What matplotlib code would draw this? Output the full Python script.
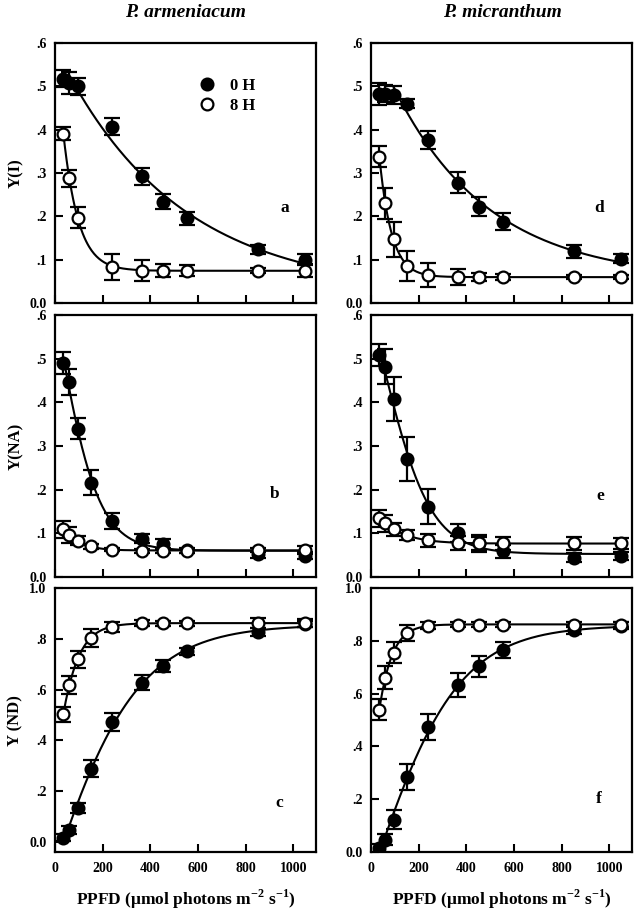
import numpy as np
import matplotlib
matplotlib.use("Agg")
import matplotlib.pyplot as plt
from matplotlib.ticker import FuncFormatter

plt.rcParams['font.family'] = ['Liberation Serif', 'DejaVu Serif']
plt.rcParams['font.weight'] = 'bold'
plt.rcParams['mathtext.fontset'] = 'custom'
plt.rcParams['mathtext.rm'] = 'Liberation Serif:bold'

# PPFD levels (umol photons m-2 s-1)
ppfd = [35, 60, 95, 150, 240, 365, 455, 555, 850, 1050]
ppfd_a = [35, 60, 95, 240, 365, 455, 555, 850, 1050]   # panel a has no 150 point

# P. armeniacum
yi_arm_0h = [0.518, 0.507, 0.500, 0.407, 0.292, 0.234, 0.196, 0.124, 0.100]
yi_arm_0h_err = [0.020, 0.025, 0.020, 0.020, 0.020, 0.018, 0.015, 0.010, 0.012]
yi_arm_8h = [0.391, 0.288, 0.197, 0.084, 0.075, 0.075, 0.075, 0.075, 0.075]
yi_arm_8h_err = [0.015, 0.020, 0.025, 0.030, 0.025, 0.015, 0.012, 0.005, 0.015]

yna_arm_0h = [0.491, 0.447, 0.340, 0.216, 0.128, 0.088, 0.076, 0.061, 0.052, 0.049]
yna_arm_0h_err = [0.025, 0.030, 0.025, 0.028, 0.018, 0.010, 0.010, 0.005, 0.008, 0.008]
yna_arm_8h = [0.109, 0.096, 0.083, 0.070, 0.063, 0.060, 0.060, 0.060, 0.062, 0.062]
yna_arm_8h_err = [0.020, 0.018, 0.010, 0.005, 0.004, 0.004, 0.004, 0.004, 0.004, 0.010]

ynd_arm_0h = [0.017, 0.046, 0.132, 0.289, 0.473, 0.627, 0.693, 0.751, 0.828, 0.858]
ynd_arm_0h_err = [0.015, 0.015, 0.020, 0.035, 0.035, 0.030, 0.025, 0.015, 0.015, 0.012]
ynd_arm_8h = [0.503, 0.619, 0.719, 0.804, 0.848, 0.862, 0.862, 0.862, 0.862, 0.862]
ynd_arm_8h_err = [0.030, 0.035, 0.035, 0.035, 0.020, 0.012, 0.010, 0.010, 0.020, 0.015]

# P. micranthum
yi_mic_0h = [0.483, 0.483, 0.480, 0.460, 0.376, 0.278, 0.222, 0.188, 0.119, 0.102]
yi_mic_0h_err = [0.025, 0.020, 0.020, 0.010, 0.020, 0.025, 0.022, 0.020, 0.015, 0.010]
yi_mic_8h = [0.338, 0.230, 0.147, 0.086, 0.065, 0.060, 0.060, 0.060, 0.060, 0.060]
yi_mic_8h_err = [0.025, 0.035, 0.040, 0.035, 0.028, 0.018, 0.010, 0.008, 0.004, 0.004]

yna_mic_0h = [0.508, 0.481, 0.407, 0.270, 0.161, 0.101, 0.077, 0.059, 0.044, 0.048]
yna_mic_0h_err = [0.025, 0.040, 0.050, 0.050, 0.040, 0.020, 0.015, 0.015, 0.010, 0.010]
yna_mic_8h = [0.134, 0.123, 0.109, 0.096, 0.084, 0.078, 0.077, 0.077, 0.077, 0.077]
yna_mic_8h_err = [0.020, 0.020, 0.015, 0.012, 0.015, 0.015, 0.020, 0.015, 0.015, 0.012]

ynd_mic_0h = [0.015, 0.047, 0.123, 0.285, 0.473, 0.632, 0.704, 0.765, 0.840, 0.858]
ynd_mic_0h_err = [0.015, 0.020, 0.035, 0.050, 0.050, 0.045, 0.040, 0.030, 0.015, 0.012]
ynd_mic_8h = [0.540, 0.661, 0.756, 0.831, 0.858, 0.862, 0.862, 0.862, 0.862, 0.862]
ynd_mic_8h_err = [0.040, 0.045, 0.040, 0.030, 0.012, 0.008, 0.008, 0.008, 0.008, 0.008]


def _lsq(g, y):
    # closed form fit of y = c + a*g for every candidate g (last axis = points)
    gm = g.mean(-1, keepdims=True)
    ym = y.mean()
    var = ((g - gm) ** 2).sum(-1)
    var[var < 1e-12] = np.inf
    a = ((g - gm) * (y - ym)).sum(-1) / var
    c = ym - a * gm[..., 0]
    res = ((y - c[..., None] - a[..., None] * g) ** 2).sum(-1)
    return a, c, res


def fit_curve(x, y, model):
    x = np.asarray(x, float)
    y = np.asarray(y, float)
    if model == 'exp':
        ks = np.linspace(0.0002, 0.05, 500)[:, None]
        a, c, res = _lsq(np.exp(-ks * x), y)
        i = np.argmin(res)
        return lambda t: c[i] + a[i] * np.exp(-ks[i, 0] * t)
    x0s = np.linspace(-1500, 1000, 251)[:, None, None]
    ss = np.linspace(5, 800, 160)[None, :, None]
    a, c, res = _lsq(1.0 / (1.0 + np.exp(np.clip((x - x0s) / ss, -50, 50))), y)
    i, j = np.unravel_index(np.argmin(res), res.shape)
    return lambda t: c[i, j] + a[i, j] / (1 + np.exp(np.clip((t - x0s[i, 0, 0]) / ss[0, j, 0], -50, 50)))


def tick_fmt(v, pos):
    if abs(v) < 1e-9:
        return '0.0'
    if abs(v - 1) < 1e-9:
        return '1.0'
    return ('%.1f' % v).lstrip('0')


def draw_series(ax, x, y, err, filled, label, start=0, model='logistic'):
    ax.errorbar(x, y, yerr=err, fmt='none', ecolor='black', elinewidth=1.6,
                capsize=5.5, capthick=1.6, zorder=2)
    f = fit_curve(x[start:], y[start:], model)
    xs = np.linspace(x[start], x[-1], 300)
    ax.plot(xs, f(xs), color='black', lw=1.5, zorder=3)
    ax.plot(x, y, 'o', ms=8.5, mec='black', mew=1.6,
            mfc='black' if filled else 'white', label=label, zorder=4)


fig = plt.figure(figsize=(6.38, 9.13), dpi=100)

cols = [0.0862, 0.5815]
width = 0.409
rows = [(0.6681, 0.2848), (0.368, 0.287), (0.0668, 0.289)]

panels = [
    # (col, row, x0h, y0h, e0h, x8h, y8h, e8h, letter, letter xy, ylim, start0h, model0h)
    (0, 0, ppfd_a, yi_arm_0h, yi_arm_0h_err, ppfd_a, yi_arm_8h, yi_arm_8h_err, 'a', (965, 0.22), (0, 0.6), 1, 'exp'),
    (0, 1, ppfd, yna_arm_0h, yna_arm_0h_err, ppfd, yna_arm_8h, yna_arm_8h_err, 'b', (922, 0.19), (0, 0.6), 0, 'logistic'),
    (0, 2, ppfd, ynd_arm_0h, ynd_arm_0h_err, ppfd, ynd_arm_8h, ynd_arm_8h_err, 'c', (943, 0.155), (-0.04, 1.0), 0, 'logistic'),
    (1, 0, ppfd, yi_mic_0h, yi_mic_0h_err, ppfd, yi_mic_8h, yi_mic_8h_err, 'd', (956, 0.22), (0, 0.6), 2, 'exp'),
    (1, 1, ppfd, yna_mic_0h, yna_mic_0h_err, ppfd, yna_mic_8h, yna_mic_8h_err, 'e', (964, 0.185), (0, 0.6), 0, 'logistic'),
    (1, 2, ppfd, ynd_mic_0h, ynd_mic_0h_err, ppfd, ynd_mic_8h, ynd_mic_8h_err, 'f', (956, 0.2), (0, 1.0), 0, 'logistic'),
]
ylabels = ['Y(I)', 'Y(NA)', 'Y (ND)']

for col, row, x0, y0, e0, x8, y8, e8, letter, lxy, ylim, st, mdl in panels:
    b, h = rows[row]
    ax = fig.add_axes([cols[col], b, width, h])
    draw_series(ax, x0, y0, e0, True, '0 H', start=st, model=mdl)
    draw_series(ax, x8, y8, e8, False, '8 H')
    ax.set_xlim(0, 1095)
    ax.set_ylim(*ylim)
    ax.set_xticks([0, 200, 400, 600, 800, 1000])
    if ylim[1] > 0.9:
        ax.set_yticks([0, 0.2, 0.4, 0.6, 0.8, 1.0])
    else:
        ax.set_yticks([0, 0.1, 0.2, 0.3, 0.4, 0.5, 0.6])
    ax.yaxis.set_major_formatter(FuncFormatter(tick_fmt))
    ax.tick_params(direction='in', length=6, width=1.5, labelsize=10, pad=6)
    ax.tick_params(axis='x', pad=7)
    for sp in ax.spines.values():
        sp.set_linewidth(1.6)
    if row < 2:
        ax.tick_params(labelbottom=False)
    else:
        ax.set_xlabel(r'PPFD ($\mathrm{\mu}$mol photons m$^{-2}$ s$^{-1}$)',
                      fontsize=12.5, fontweight='bold', labelpad=9)
    if col == 0:
        ax.set_ylabel(ylabels[row], fontsize=12, fontweight='bold', labelpad=4)
    ax.text(lxy[0], lxy[1], letter, fontsize=12.5, fontweight='bold', ha='center', va='center')
    if col == 0 and row == 0:
        ax.legend(loc='upper left', bbox_to_anchor=(0.5, 0.91), frameon=False,
                  fontsize=12, handletextpad=0.8, labelspacing=0.25,
                  handlelength=1.2, borderpad=0.2)

fig.text(0.29, 0.996, 'P. armeniacum', fontsize=14, fontweight='bold', style='italic',
         ha='center', va='top')
fig.text(0.787, 0.996, 'P. micranthum', fontsize=14, fontweight='bold', style='italic',
         ha='center', va='top')

fig.savefig('out.png', dpi=100)
